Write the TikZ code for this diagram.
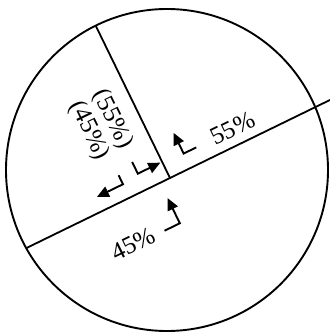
\documentclass[tikz,border=0pt]{standalone}
\usepackage{fontspec}
\setmainfont{Liberation Serif}
\usetikzlibrary{arrows.meta}
\begin{document}
\begin{tikzpicture}[x=1pt,y=1pt,
  rim/.style={line width=1.9pt},
  chord/.style={line width=1.8pt},
  flow/.style={line width=1.9pt,-{Triangle[length=12pt,width=11pt]}},
  pct/.style={font=\fontsize{25}{26}\selectfont, inner sep=0pt}]
\useasboundingbox (0,0) rectangle (330,333);
\coordinate (O) at (167,163);
\draw[rim] (O) circle (161);
\begin{scope}[shift={(170,155)}, rotate=26]
  \coordinate (X) at (0,0);
  \coordinate (L) at (-160,0);
  \coordinate (R) at (178,0);
  \coordinate (T) at (0,169.5);
  \draw[chord] (L) -- (R);
  \draw[chord] (X) -- (T);
  % labels
  \node[pct, rotate=26] (p55) at (78,17) {55\%};
  \node[pct, rotate=26] (p45) at (-62,-43) {45\%};
  \node[pct, rotate=-64, align=left] (pp) at (-39,78) {(55\%)\\(45\%)};
  % arrows
  \coordinate (a1t) at (37,16);  \coordinate (a1c) at (23,16);  \coordinate (a1h) at (23,39);
  \coordinate (a2t) at (-28,-45); \coordinate (a2c) at (-11,-45); \coordinate (a2h) at (-11,-17);
  \coordinate (a3t) at (-27,31); \coordinate (a3c) at (-27,18); \coordinate (a3h) at (-2,18);
  \coordinate (a4t) at (-45,25); \coordinate (a4c) at (-45,15); \coordinate (a4h) at (-74,15);
  \draw[flow] (a1t) -- (a1c) -- (a1h);
  \draw[flow] (a2t) -- (a2c) -- (a2h);
  \draw[flow] (a3t) -- (a3c) -- (a3h);
  \draw[flow] (a4t) -- (a4c) -- (a4h);
\end{scope}
\end{tikzpicture}
\end{document}
